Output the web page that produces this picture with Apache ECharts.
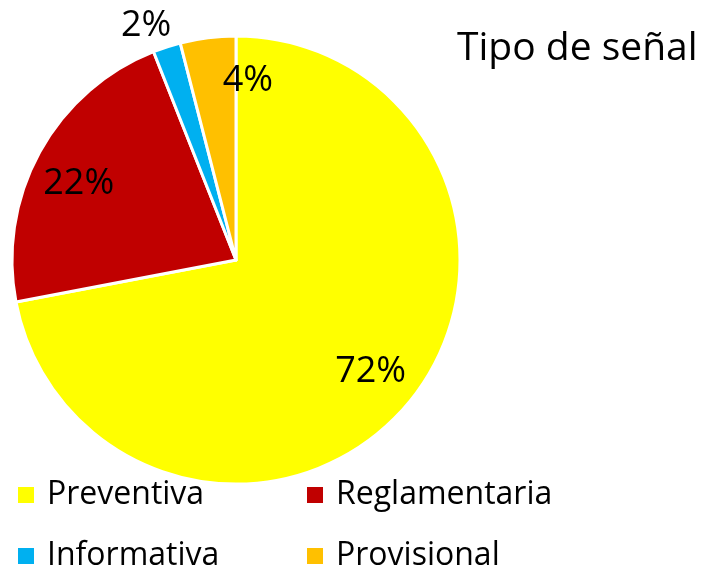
<!DOCTYPE html>
<html>
<head>
<meta charset="utf-8">
<script src="https://cdn.jsdelivr.net/npm/echarts@6/dist/echarts.min.js"></script>
<style>
  html, body { margin: 0; padding: 0; background: #fff; }
  #chart { width: 714px; height: 571px; }
</style>
</head>
<body>
<div id="chart"></div>
<script>
// Sign types and their shares (%)
const categories = ['Preventiva', 'Reglamentaria', 'Informativa', 'Provisional'];
const values = [72, 22, 2, 4];
const colors = ['#FFFF00', '#C00000', '#00B0F0', '#FFC000'];

const FONT = '"Open Sans", Lato, sans-serif';
const CX = 236, CY = 260, R = 224;

// Label placement along each slice's mid-angle: radial factor and angle nudge (deg)
const labelPlace = [
  { rf: 0.78, da: 0 },
  { rf: 0.78, da: -3 },
  { rf: 1.12, da: -3 },
  { rf: 0.80, da: 11 }
];

// Legend grid: two columns, two rows
const legendCols = [18, 307];
const legendRows = [479, 540];

const total = values.reduce((a, b) => a + b, 0);
function midAngle(i) {
  let acc = 0;
  for (let k = 0; k < i; k++) acc += values[k];
  return ((acc + values[i] / 2) / total) * 360;
}

const legends = categories.map((name, i) => ({
  data: [name],
  left: legendCols[i % 2],
  top: legendRows[Math.floor(i / 2)],
  padding: 0,
  icon: 'rect',
  itemWidth: 16,
  itemHeight: 16,
  itemStyle: { borderWidth: 0 },
  textStyle: { fontFamily: FONT, fontSize: 32, lineHeight: 30, color: '#000', padding: [0, 0, 0, 8] }
}));

const chart = echarts.init(document.getElementById('chart'));
chart.setOption({
  backgroundColor: '#ffffff',
  animation: false,
  title: {
    text: 'Tipo de señal',
    left: 452,
    top: 24,
    textStyle: { fontFamily: FONT, fontSize: 39, fontWeight: 'normal', color: '#000' }
  },
  legend: legends,
  series: [{
    type: 'pie',
    center: [CX, CY],
    radius: [0, R],
    startAngle: 90,
    clockwise: true,
    itemStyle: { borderColor: '#ffffff', borderWidth: 3 },
    label: {
      show: true,
      position: 'inside',
      formatter: '{d}%',
      fontFamily: FONT,
      fontSize: 36,
      color: '#000'
    },
    labelLine: { show: false },
    labelLayout: function (p) {
      const i = p.dataIndex;
      const a = (midAngle(i) + labelPlace[i].da) * Math.PI / 180;
      const r = R * labelPlace[i].rf;
      return {
        x: CX + r * Math.sin(a),
        y: CY - r * Math.cos(a),
        align: 'center',
        verticalAlign: 'middle'
      };
    },
    emphasis: { disabled: true },
    data: categories.map((name, i) => ({
      name: name,
      value: values[i],
      itemStyle: { color: colors[i] }
    }))
  }]
});
</script>
</body>
</html>
